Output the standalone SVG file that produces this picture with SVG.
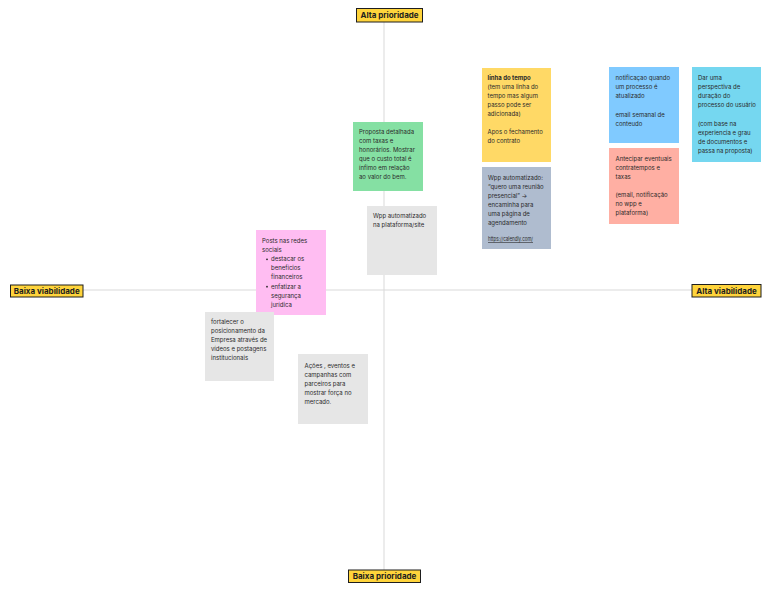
<svg xmlns="http://www.w3.org/2000/svg" width="770" height="592" viewBox="0 0 770 592">
<style>
.ax{stroke:#d9d9d9;stroke-width:1;fill:none}
.lbl rect{fill:#ffd43b;stroke:#1e1e1e;stroke-width:1}
.lbl text{font-family:Inter,"Liberation Sans",sans-serif;font-weight:700;font-size:8px;fill:#1e1e1e;text-anchor:middle}
.st text{font-family:Inter,"Liberation Sans",sans-serif;font-size:6px;fill:#2a2a2a}
</style>
<rect width="770" height="592" fill="#ffffff"/>
<g id="connectors">
<line class="ax" x1="384" y1="22" x2="384" y2="570"/>
<line class="ax" x1="83" y1="290" x2="692" y2="290"/>
</g>
<g id="alta-prioridade" class="lbl"><rect x="356.5" y="8.5" width="66" height="13.5"/><text x="389.5" y="18.3">Alta prioridade</text></g>
<g id="baixa-prioridade" class="lbl"><rect x="348.5" y="570" width="72" height="12.5"/><text x="384.5" y="579.3">Baixa prioridade</text></g>
<g id="baixa-viabilidade" class="lbl"><rect x="10.5" y="285" width="72.5" height="12"/><text x="46.7" y="294">Baixa viabilidade</text></g>
<g id="alta-viabilidade" class="lbl"><rect x="692" y="284.5" width="69" height="12.5"/><text x="726.5" y="293.8">Alta viabilidade</text></g>

<g id="proposta" class="st">
<rect x="353" y="122" width="70" height="69" fill="#85e0a3"/>
<text x="359"><tspan x="359" y="134.2">Proposta detalhada</tspan><tspan x="359" y="143.2">com taxas e</tspan><tspan x="359" y="152.2">honorários. Mostrar</tspan><tspan x="359" y="161.2">que o custo total é</tspan><tspan x="359" y="170.2">ínfimo em relação</tspan><tspan x="359" y="179.2">ao valor do bem.</tspan></text>
</g>
<g id="linha-tempo" class="st">
<rect x="482" y="68" width="69" height="94" fill="#ffd966"/>
<text><tspan x="487.5" y="80.2" font-weight="700">linha  do tempo</tspan><tspan x="487.5" y="89.2">(tem uma linha do</tspan><tspan x="487.5" y="98.2">tempo mas algum</tspan><tspan x="487.5" y="107.2">passo pode ser</tspan><tspan x="487.5" y="116.2">adicionada)</tspan><tspan x="487.5" y="134.2">Apos o fechamento</tspan><tspan x="487.5" y="143.2">do contrato</tspan></text>
</g>
<g id="wpp-agendamento" class="st">
<rect x="482" y="167" width="69" height="82" fill="#afbccf"/>
<text><tspan x="488" y="180">Wpp automatizado:</tspan><tspan x="488" y="189">“quero uma reunião</tspan><tspan x="488" y="198">presencial” →</tspan><tspan x="488" y="207">encaminha para</tspan><tspan x="488" y="216">uma página de</tspan><tspan x="488" y="225">agendamento</tspan></text>
<text x="488" y="241" font-size="4.2" textLength="45" lengthAdjust="spacingAndGlyphs" text-decoration="underline">https://calendly.com/</text>
</g>
<g id="notificacao" class="st">
<rect x="609" y="67" width="70" height="76" fill="#80caff"/>
<text><tspan x="615.5" y="80">notificaçao quando</tspan><tspan x="615.5" y="89">um processo é</tspan><tspan x="615.5" y="98">atualizado</tspan><tspan x="615.5" y="117">email semanal de</tspan><tspan x="615.5" y="126">conteudo</tspan></text>
</g>
<g id="perspectiva" class="st">
<rect x="692" y="67" width="69" height="95" fill="#75d7f0"/>
<text><tspan x="698" y="80">Dar uma</tspan><tspan x="698" y="89">perspectiva de</tspan><tspan x="698" y="98">duração do</tspan><tspan x="698" y="107">processo do usuário</tspan><tspan x="698" y="125.5">(com base na</tspan><tspan x="698" y="134.5">experiencia e grau</tspan><tspan x="698" y="143.5">de documentos e</tspan><tspan x="698" y="152.5">passa na proposta)</tspan></text>
</g>
<g id="antecipar" class="st">
<rect x="609" y="148" width="70" height="76" fill="#ffafa3"/>
<text><tspan x="615.5" y="161">Antecipar eventuais</tspan><tspan x="615.5" y="170">contratempos e</tspan><tspan x="615.5" y="179">taxas</tspan><tspan x="615.5" y="197">(email, notificação</tspan><tspan x="615.5" y="206">no wpp e</tspan><tspan x="615.5" y="215">plataforma)</tspan></text>
</g>
<g id="posts" class="st">
<rect x="256" y="230" width="70" height="85" fill="#ffbdf2"/>
<text><tspan x="262" y="242.7">Posts nas redes</tspan><tspan x="262" y="252">sociais</tspan><tspan x="271" y="261.3">destacar os</tspan><tspan x="271" y="270.3">benefícios</tspan><tspan x="271" y="279.3">financeiros</tspan><tspan x="271" y="288.7">enfatizar a</tspan><tspan x="271" y="297.7">segurança</tspan><tspan x="271" y="306.7">jurídica</tspan></text>
<circle cx="267" cy="259.3" r="0.9" fill="#2a2a2a"/>
<circle cx="267" cy="286.7" r="0.9" fill="#2a2a2a"/>
</g>
<g id="wpp-site" class="st">
<rect x="367" y="206" width="70" height="69" fill="#e6e6e6"/>
<text><tspan x="373" y="218">Wpp automatizado</tspan><tspan x="373" y="227">na plataforma/site</tspan></text>
</g>
<g id="fortalecer" class="st">
<rect x="205" y="312" width="69" height="69" fill="#e6e6e6"/>
<text><tspan x="211" y="323.7">fortalecer o</tspan><tspan x="211" y="333">posicionamento da</tspan><tspan x="211" y="342.3">Empresa através de</tspan><tspan x="211" y="351.3">vídeos e postagens</tspan><tspan x="211" y="360.3">institucionais</tspan></text>
</g>
<g id="acoes" class="st">
<rect x="298" y="354" width="70" height="70" fill="#e6e6e6"/>
<text><tspan x="304.5" y="367.7">Ações , eventos e</tspan><tspan x="304.5" y="377">campanhas com</tspan><tspan x="304.5" y="386">parceiros para</tspan><tspan x="304.5" y="395.3">mostrar força no</tspan><tspan x="304.5" y="404.3">mercado.</tspan></text>
</g>
</svg>
